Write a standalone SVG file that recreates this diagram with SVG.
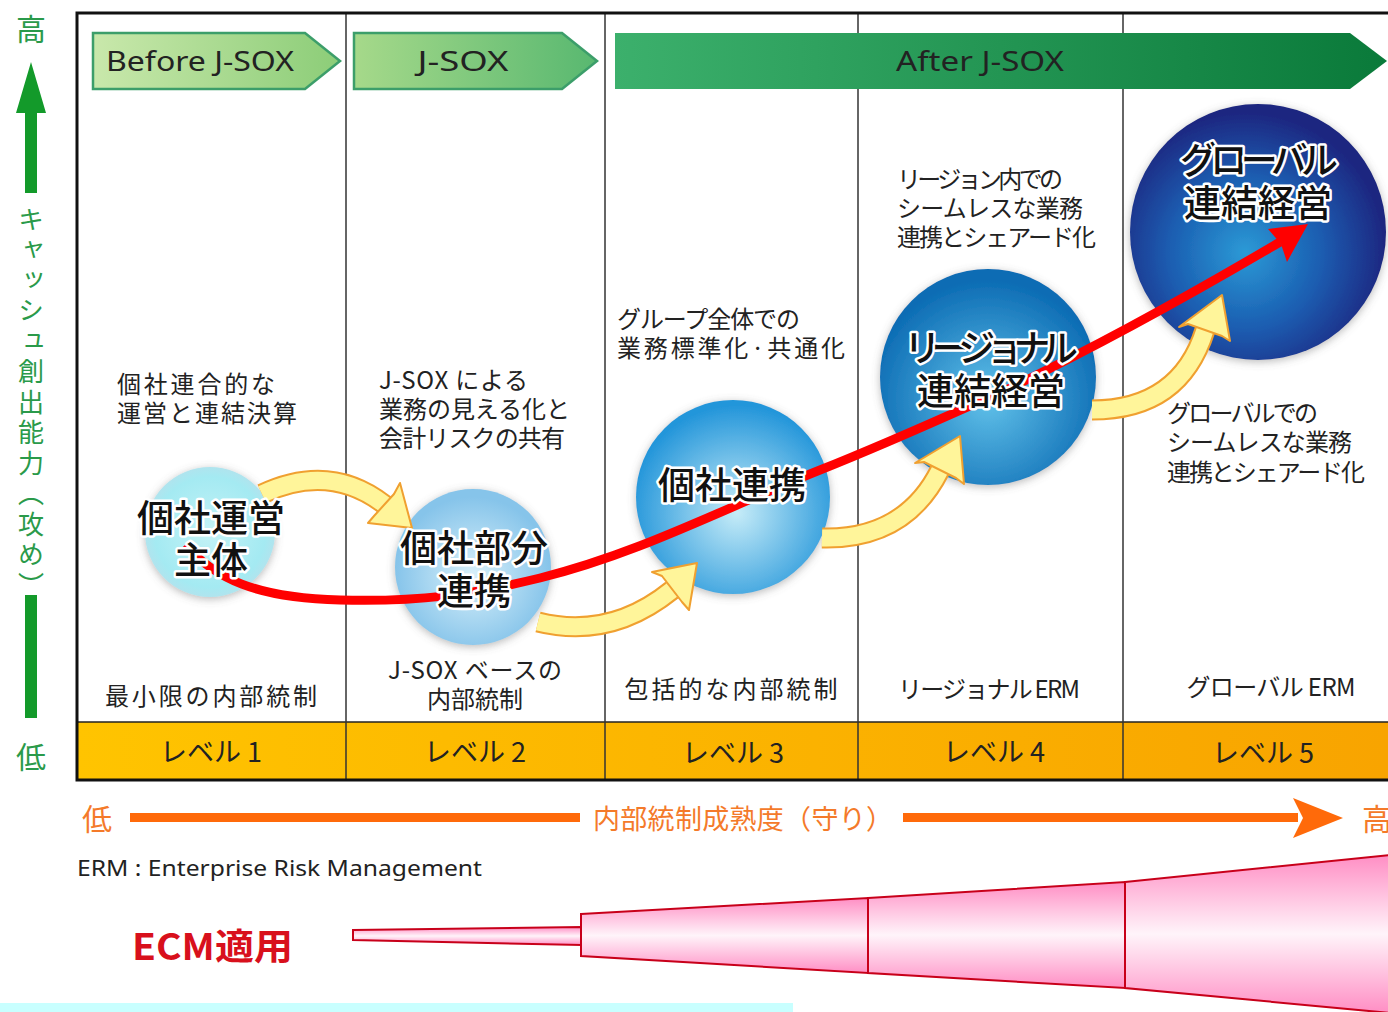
<svg xmlns="http://www.w3.org/2000/svg" width="1388" height="1012" viewBox="0 0 1388 1012">
<defs>
<style>
.t{font-family:"Noto Sans CJK JP","Noto Sans",sans-serif;font-size:24px;fill:#222;}
.c{text-anchor:middle;}
.lv{font-family:"Noto Sans CJK JP","Noto Sans",sans-serif;font-size:27px;fill:#222;text-anchor:middle;}
.bn{font-family:"Noto Sans","Noto Sans CJK JP",sans-serif;font-size:28px;fill:#222;text-anchor:middle;}
.ct{font-family:"Noto Sans CJK JP",sans-serif;font-size:37px;font-weight:500;fill:#111;stroke:#fff;stroke-width:5px;stroke-linejoin:round;paint-order:stroke;text-anchor:middle;}
.g{font-family:"Noto Sans CJK JP",sans-serif;fill:#2a9a4a;}
.o{font-family:"Noto Sans CJK JP",sans-serif;fill:#f47a2a;}
.div{stroke:#333;stroke-width:1.5;}
.yo{fill:none;stroke:#f0a030;stroke-width:21;}
.yi{fill:none;stroke:#fff59a;stroke-width:17;}
.yh{fill:#fff59a;stroke:#f0a030;stroke-width:2;stroke-linejoin:round;}
.fun{stroke:#c8001a;stroke-width:2;fill:url(#pink);}
</style>
<linearGradient id="g1" x1="0" y1="0" x2="1" y2="0"><stop offset="0" stop-color="#c9e8ab"/><stop offset="1" stop-color="#8ccd78"/></linearGradient>
<linearGradient id="g2" x1="0" y1="0" x2="1" y2="0"><stop offset="0" stop-color="#a6d98a"/><stop offset="1" stop-color="#58b870"/></linearGradient>
<linearGradient id="g3" x1="0" y1="0" x2="1" y2="0"><stop offset="0" stop-color="#3cb06c"/><stop offset="1" stop-color="#0a7a3a"/></linearGradient>
<linearGradient id="lvg" x1="0" y1="0" x2="1" y2="0"><stop offset="0" stop-color="#ffc400"/><stop offset="1" stop-color="#f8a400"/></linearGradient>
<linearGradient id="pink" x1="0" y1="0" x2="0" y2="1"><stop offset="0" stop-color="#ff8ec4"/><stop offset="0.5" stop-color="#fff4fa"/><stop offset="1" stop-color="#ff8ec4"/></linearGradient>
<radialGradient id="c1" cx="0.5" cy="0.5" r="0.5"><stop offset="0" stop-color="#c4f2f6"/><stop offset="0.85" stop-color="#a4eaf2"/><stop offset="1" stop-color="#b0e4ee"/></radialGradient>
<radialGradient id="c2" cx="0.5" cy="0.55" r="0.5"><stop offset="0" stop-color="#d8f0fa"/><stop offset="1" stop-color="#86c4ea"/></radialGradient>
<radialGradient id="c3" cx="0.52" cy="0.58" r="0.55"><stop offset="0" stop-color="#c6ecf8"/><stop offset="1" stop-color="#2496da"/></radialGradient>
<radialGradient id="c4" cx="0.5" cy="0.6" r="0.55"><stop offset="0" stop-color="#62c2ea"/><stop offset="1" stop-color="#0c6cb4"/></radialGradient>
<radialGradient id="c5" cx="0.45" cy="0.58" r="0.55"><stop offset="0" stop-color="#2c9ad6"/><stop offset="0.55" stop-color="#1a5cb0"/><stop offset="1" stop-color="#1a2680"/></radialGradient>
<filter id="sh" x="-20%" y="-20%" width="140%" height="140%"><feDropShadow dx="0" dy="2" stdDeviation="4" flood-color="#666" flood-opacity="0.45"/></filter>
</defs>

<rect width="1388" height="1012" fill="#fff"/>

<!-- left axis -->
<g id="axis-left">
<text class="g" x="31" y="40" font-size="30" text-anchor="middle">高</text>
<polygon points="31,62 46,113 37,113 37,193 25,193 25,113 16,113" fill="#139a2a"/>
<text class="g" x="31" y="206" font-size="26" letter-spacing="4.5" style="writing-mode:vertical-rl">キャッシュ創出能力（攻め）</text>
<rect x="25" y="595" width="12" height="123" fill="#139a2a"/>
<text class="g" x="31" y="768" font-size="30" text-anchor="middle">低</text>
</g>

<!-- frame -->
<g id="frame">
<rect x="77" y="722" width="1311" height="58" fill="url(#lvg)"/>
<line x1="77" y1="722" x2="1388" y2="722" stroke="#222" stroke-width="1.5"/>
<line class="div" x1="346" y1="13" x2="346" y2="780"/>
<line class="div" x1="605" y1="13" x2="605" y2="780"/>
<line class="div" x1="858" y1="13" x2="858" y2="780"/>
<line class="div" x1="1123" y1="13" x2="1123" y2="780"/>
<polyline points="1390,13 77,13 77,780 1390,780" fill="none" stroke="#111" stroke-width="3"/>
</g>

<!-- banners -->
<g id="banner-before"><polygon points="93,33 305,33 340,61 305,89 93,89" fill="url(#g1)" stroke="#3c9e6a" stroke-width="2.5"/><text class="bn" x="200" y="71" textLength="188" lengthAdjust="spacingAndGlyphs">Before J-SOX</text></g>
<g id="banner-jsox"><polygon points="354,33 562,33 597,61 562,89 354,89" fill="url(#g2)" stroke="#3c9e6a" stroke-width="2.5"/><text class="bn" x="463" y="71" textLength="91" lengthAdjust="spacingAndGlyphs">J-SOX</text></g>
<g id="banner-after"><polygon points="615,33 1350,33 1387,61 1350,89 615,89" fill="url(#g3)"/><text class="bn" x="980" y="71" textLength="168" lengthAdjust="spacingAndGlyphs">After J-SOX</text></g>

<!-- descriptions -->
<g id="desc1"><text class="t" x="117" y="393" textLength="158">個社連合的な</text><text class="t" x="117" y="422" textLength="180">運営と連結決算</text></g>
<g id="desc2"><text class="t" x="379" y="389" textLength="149">J-SOX による</text><text class="t" x="379" y="418" textLength="191">業務の見える化と</text><text class="t" x="379" y="447" textLength="186">会計リスクの共有</text></g>
<g id="desc3"><text class="t" x="617" y="328" textLength="183">グループ全体での</text><text class="t" x="617" y="357" textLength="228">業務標準化·共通化</text></g>
<g id="desc4"><text class="t" x="897" y="188" textLength="166">リージョン内での</text><text class="t" x="897" y="217" textLength="186">シームレスな業務</text><text class="t" x="897" y="246" textLength="199">連携とシェアード化</text></g>
<g id="desc5"><text class="t" x="1167" y="422" textLength="151">グローバルでの</text><text class="t" x="1167" y="451" textLength="185">シームレスな業務</text><text class="t" x="1167" y="481" textLength="198">連携とシェアード化</text></g>

<g id="ctrl1"><text class="t c" x="211" y="705" textLength="212">最小限の内部統制</text></g>
<g id="ctrl2"><text class="t c" x="475" y="679" textLength="174">J-SOX ベースの</text><text class="t c" x="475" y="708">内部統制</text></g>
<g id="ctrl3"><text class="t c" x="731" y="698" textLength="213">包括的な内部統制</text></g>
<g id="ctrl4"><text class="t c" x="989" y="698" textLength="182">リージョナル ERM</text></g>
<g id="ctrl5"><text class="t c" x="1271" y="696" textLength="169">グローバル ERM</text></g>

<g id="levels">
<text class="lv" x="211" y="762">レベル 1</text>
<text class="lv" x="475" y="762">レベル 2</text>
<text class="lv" x="733" y="763">レベル 3</text>
<text class="lv" x="994" y="762">レベル 4</text>
<text class="lv" x="1263" y="763">レベル 5</text>
</g>

<!-- circles -->
<g id="node1"><circle cx="210" cy="532" r="65" fill="url(#c1)" filter="url(#sh)"/></g>
<g id="node2"><circle cx="473" cy="567" r="78" fill="url(#c2)" filter="url(#sh)"/></g>
<g id="node3"><circle cx="733" cy="497" r="97" fill="url(#c3)" filter="url(#sh)"/></g>
<g id="node4"><circle cx="988" cy="377" r="108" fill="url(#c4)" filter="url(#sh)"/></g>
<g id="node5"><circle cx="1258" cy="232" r="128" fill="url(#c5)" filter="url(#sh)"/></g>

<!-- connectors -->
<g id="connectors">
<path class="yo" d="M262,494 Q330,462 385,505"/>
<path class="yi" d="M262,494 Q330,462 385,505"/>
<polygon class="yh" points="412,528 368,523 374,516 394,494 400,483"/>
<path class="yo" d="M538,622 Q610,640 672,590"/>
<path class="yi" d="M538,622 Q610,640 672,590"/>
<polygon class="yh" points="697,563 689,610 682,602 662,576 652,572"/>
<path class="yo" d="M822,538 Q905,540 940,470"/>
<path class="yi" d="M822,538 Q905,540 940,470"/>
<polygon class="yh" points="960,436 964,484 956,478 924,462 915,463"/>
<path class="yo" d="M1092,410 Q1180,410 1205,330"/>
<path class="yi" d="M1092,410 Q1180,410 1205,330"/>
<polygon class="yh" points="1222,295 1230,341 1222,336 1188,324 1179,327"/>
<path d="M185,545 C215,578 255,598 340,600 C420,602 470,595 540,578 C640,553 720,510 820,470 C900,438 960,410 1010,388 C1100,345 1190,295 1280,242" fill="none" stroke="#ff0000" stroke-width="9"/>
<polygon points="1308,224 1287,262 1281,244 1268,229" fill="#ff0000"/>
</g>

<!-- circle labels -->
<g id="labels">
<text class="ct" x="211" y="532">個社運営</text>
<text class="ct" x="211" y="574">主体</text>
<text class="ct" x="474" y="562">個社部分</text>
<text class="ct" x="474" y="605">連携</text>
<text class="ct" x="732" y="499">個社連携</text>
<text class="ct" x="991" y="362" textLength="174">リージョナル</text>
<text class="ct" x="991" y="405">連結経営</text>
<text class="ct" x="1259" y="174" textLength="158">グローバル</text>
<text class="ct" x="1258" y="217">連結経営</text>
</g>

<!-- bottom axis -->
<g id="axis-bottom">
<text class="o" x="97" y="830" font-size="30" text-anchor="middle">低</text>
<rect x="130" y="813" width="450" height="9" fill="#ff6a0a"/>
<text class="o" x="743" y="829" font-size="27" text-anchor="middle" textLength="300">内部統制成熟度（守り）</text>
<rect x="903" y="813" width="395" height="9" fill="#ff6a0a"/>
<polygon points="1293,798 1343,818 1293,838 1303,818" fill="#ff6a0a"/>
<text class="o" x="1362" y="830" font-size="30">高</text>
</g>

<text x="77" y="876" font-family="Noto Sans, Liberation Sans, sans-serif" font-size="22" fill="#222" textLength="405" lengthAdjust="spacingAndGlyphs">ERM : Enterprise Risk Management</text>

<!-- ECM funnel -->
<g id="ecm">
<text x="132" y="960" font-family="Noto Sans CJK JP, sans-serif" font-size="36" font-weight="700" fill="#d8101c" textLength="161" lengthAdjust="spacingAndGlyphs">ECM適用</text>
<polygon class="fun" points="353,930 581,927 581,945 353,940"/>
<polygon class="fun" points="581,914 868,898 868,973 581,956"/>
<polygon class="fun" points="868,898 1125,882 1125,988 868,973"/>
<polygon class="fun" points="1125,882 1390,855 1390,1013 1125,988"/>
<rect x="0" y="1003" width="793" height="9" fill="#c8ffff"/>
</g>
</svg>
